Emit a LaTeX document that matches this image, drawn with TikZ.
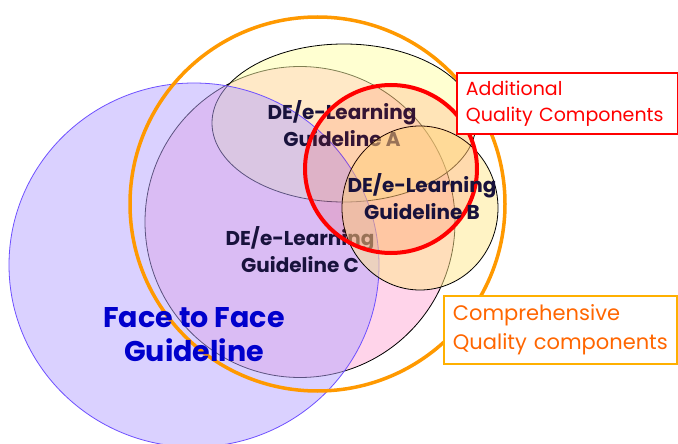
\documentclass[tikz,border=0pt]{standalone}
\usepackage{fontspec}
\setmainfont{Poppins}
\definecolor{ffpurple}{RGB}{183,165,255}
\definecolor{ffline}{RGB}{110,80,255}
\definecolor{cpink}{RGB}{255,170,215}
\definecolor{ayel}{RGB}{255,255,165}
\definecolor{byel}{RGB}{255,232,140}
\definecolor{ringorange}{RGB}{255,153,0}
\definecolor{txtnavy}{RGB}{24,18,60}
\definecolor{f2fblue}{RGB}{0,0,204}
\definecolor{compor}{RGB}{255,102,0}
\definecolor{boxgold}{RGB}{255,176,0}
\tikzset{
  setfill/.style={fill opacity=0.5, draw opacity=1},
  setline/.style={draw=black, line width=0.8pt},
  delabel/.style={align=center, text=txtnavy, font=\bfseries\fontsize{20}{27}\selectfont, inner sep=0pt},
  f2flabel/.style={align=center, text=f2fblue, font=\bfseries\fontsize{28.5}{34}\selectfont, inner sep=0pt},
  qbox/.style={draw, fill=white, line width=1.8pt, align=left, anchor=north west, inner xsep=9pt, inner ysep=7pt},
}
\begin{document}
\begin{tikzpicture}[x=1pt,y=-1pt]
\useasboundingbox (0,0) rectangle (678,444);
\fill[white] (0,0) rectangle (678,444);
\begin{scope}
\clip (0,0) rectangle (678,444);
% Guideline C
\filldraw[setfill, setline, fill=cpink] (300,222) ellipse [x radius=155, y radius=155.5];
% Guideline A
\filldraw[setfill, setline, fill=ayel] (344,123) ellipse [x radius=132, y radius=79];
% Face to face
\filldraw[setfill, draw=ffline, line width=0.8pt, fill=ffpurple] (194,265) ellipse [x radius=185, y radius=182];
% labels under B
\node[delabel] (la) at (342,124) {DE/e-Learning\\Guideline A};
\node[delabel] (lc) at (300,250) {DE/e-Learning\\Guideline C};
% Guideline B
\filldraw[setfill, setline, fill=byel] (420,208) ellipse [x radius=78, y radius=82];
% red circle
\filldraw[draw=red, line width=4pt, fill=red!70!orange, fill opacity=0.12, draw opacity=1] (391,169) ellipse [x radius=86, y radius=84];
\node[delabel] (lb) at (422,197) {DE/e-Learning\\Guideline B};
% orange ring
\draw[ringorange, line width=3.5pt] (317.5,204) ellipse [x radius=187.5, y radius=187];
\node[f2flabel] (lf) at (194,335) {Face to Face\\Guideline};
\end{scope}
\node[qbox, draw=red, text=red, text width=203pt, minimum height=61pt, font=\fontsize{19}{26}\selectfont] (addq) at (456,72) {Additional\\\mbox{Quality Components}};
\node[qbox, draw=boxgold, text=compor, text width=215pt, minimum height=68pt, font=\fontsize{21}{28.5}\selectfont] (compq) at (443,295) {Comprehensive\\\mbox{Quality components}};
\end{tikzpicture}
\end{document}
